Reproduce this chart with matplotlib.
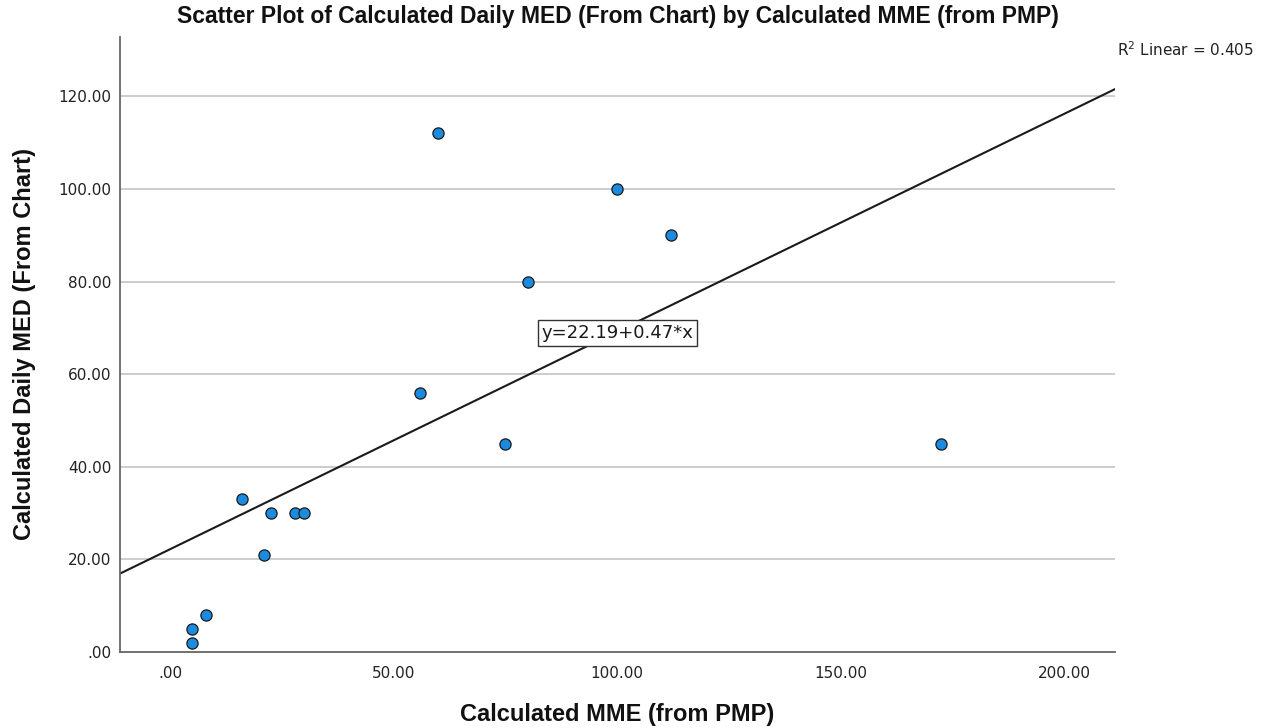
import matplotlib.pyplot as plt
import numpy as np

# values
mme = [5, 5, 8, 16, 21, 22.5, 28, 30, 56, 60, 75, 80, 100, 112, 172.5]
med = [2, 5, 8, 33, 21, 30, 30, 30, 56, 112, 45, 80, 100, 90, 45]
intercept = 22.19
slope = 0.47
r2 = 0.405

yticks = [0, 20, 40, 60, 80, 100, 120]
xticks = [0, 50, 100, 150, 200]

plt.rcParams['font.family'] = ['Liberation Sans', 'DejaVu Sans']

fig = plt.figure(figsize=(12.79, 7.28), dpi=100)
ax = fig.add_axes([0.0938, 0.1044, 0.778, 0.8448])

xlim = (-11.2, 211.4)
ax.set_xlim(xlim)
ax.set_ylim(0, 132.8)

for t in yticks[1:]:
    ax.axhline(t, color='#c8c8c8', lw=1.3, zorder=0)

xx = np.array(xlim)
ax.plot(xx, intercept + slope * xx, color='#1a1a1a', lw=1.5, zorder=2)

ax.scatter(mme, med, s=65, facecolor='#1b8be0', edgecolor='#1a1a1a', linewidth=0.9, zorder=3)

ax.text(100, 68.9, 'y=%.2f+%.2f*x' % (intercept, slope), fontsize=13, ha='center', va='center',
        family=['DejaVu Sans'], color='#1a1a1a', zorder=4,
        bbox=dict(boxstyle='square,pad=0.2', facecolor='white', edgecolor='#333333', lw=1))

ax.set_xticks(xticks)
ax.set_xticklabels(['.00' if v == 0 else '%.2f' % v for v in xticks], family=['DejaVu Sans'])
ax.set_yticks(yticks)
ax.set_yticklabels(['.00' if v == 0 else '%.2f' % v for v in yticks], family=['DejaVu Sans'])
ax.tick_params(length=0, labelsize=11, labelcolor='#222222')
ax.tick_params(axis='x', pad=10)
ax.tick_params(axis='y', pad=6)
for s in ['top', 'right']:
    ax.spines[s].set_visible(False)
for s in ['left', 'bottom']:
    ax.spines[s].set_color('#666666')
    ax.spines[s].set_linewidth(1.3)

ax.set_title('Scatter Plot of Calculated Daily MED (From Chart) by Calculated MME (from PMP)',
             fontsize=16.5, fontweight='bold', pad=10, color='#111111')
ax.set_xlabel('Calculated MME (from PMP)', fontsize=17, fontweight='bold', labelpad=16, color='#111111')
ax.set_ylabel('Calculated Daily MED (From Chart)', fontsize=17, fontweight='bold', labelpad=16, color='#111111')

fig.text(1117 / 1279, 1 - 50 / 728, '$\\mathregular{R^2}$ Linear = %.3f' % r2, fontsize=11,
         family=['DejaVu Sans'], ha='left', va='center', color='#222222')

fig.savefig('out.png', dpi=100, facecolor='white')
